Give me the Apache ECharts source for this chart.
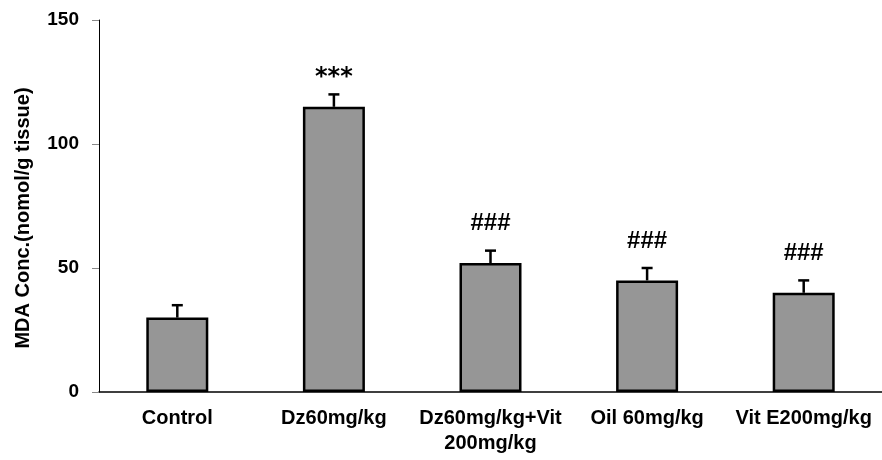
<!DOCTYPE html>
<html><head><meta charset="utf-8">
<script src="https://cdn.jsdelivr.net/npm/echarts@6/dist/echarts.min.js"></script>
<style>html,body{margin:0;padding:0;background:#fff}#c{width:882px;height:460px}</style>
</head><body><div id="c"></div>
<script>
const categories = ['Control', 'Dz60mg/kg', 'Dz60mg/kg+Vit 200mg/kg', 'Oil 60mg/kg', 'Vit E200mg/kg'];
const values = [30, 115, 52, 45, 40];
const errors = [5, 5, 5, 5, 5];
const marks = ['', '***', '###', '###', '###'];
const yTicks = { min: 0, max: 150, interval: 50 };

const FONT = '"Liberation Sans", Arial, sans-serif';
const chart = echarts.init(document.getElementById('c'));
const errData = values.map((v, i) => [i, v, v + errors[i]]);
const markData = values.map((v, i) => [i, v + errors[i], marks[i]]);

chart.setOption({
  animation: false,
  grid: { left: 99, right: -3, top: 20, bottom: 68 },
  xAxis: {
    type: 'category', data: categories,
    axisLine: { lineStyle: { color: '#000', width: 1.5 } },
    axisTick: { show: false },
    axisLabel: {
      color: '#000', fontFamily: FONT, fontWeight: 'bold', fontSize: 20, margin: 14, lineHeight: 25,
      interval: 0,
      formatter: v => v.replace('+Vit ', '+Vit\n')
    }
  },
  yAxis: {
    type: 'value', min: yTicks.min, max: yTicks.max, interval: yTicks.interval,
    name: 'MDA Conc.(nomol/g tissue)', nameLocation: 'middle', nameGap: 66,
    nameTextStyle: { color: '#000', fontFamily: FONT, fontWeight: 'bold', fontSize: 20, padding: [0, 24, 0, 0] },
    axisLine: { show: true, lineStyle: { color: '#000', width: 1 } },
    axisTick: { show: true, length: 7, lineStyle: { color: '#888', width: 1 } },
    splitLine: { show: false },
    axisLabel: { color: '#000', fontFamily: FONT, fontWeight: 'bold', fontSize: 19, margin: 20 }
  },
  series: [
    {
      type: 'bar', data: values, barWidth: 62,
      itemStyle: { color: '#969696', borderColor: '#000', borderWidth: 2.5 },
      z: 2
    },
    {
      type: 'custom', data: errData, z: 1,
      renderItem: (params, api) => {
        const x = api.value(0);
        const p0 = api.coord([x, api.value(1)]);
        const p1 = api.coord([x, api.value(2)]);
        return {
          type: 'group', children: [
            { type: 'line', shape: { x1: p0[0], y1: p0[1], x2: p1[0], y2: p1[1] }, style: { stroke: '#000', lineWidth: 2.5 } },
            { type: 'line', shape: { x1: p1[0] - 5.5, y1: p1[1], x2: p1[0] + 5.5, y2: p1[1] }, style: { stroke: '#000', lineWidth: 2.5 } }
          ]
        };
      }
    },
    {
      type: 'custom', data: markData, z: 3,
      renderItem: (params, api) => {
        const p = api.coord([api.value(0), api.value(1)]);
        const t = marks[params.dataIndex];
        const star = t === '***';
        return {
          type: 'text',
          style: {
            text: t, x: p[0], y: p[1] - (star ? 17 : 27),
            textAlign: 'center', textVerticalAlign: 'middle',
            font: star ? 'bold 24px "DejaVu Sans", sans-serif' : 'bold 24px ' + FONT, fill: '#000'
          }
        };
      }
    }
  ]
});
</script></body></html>
